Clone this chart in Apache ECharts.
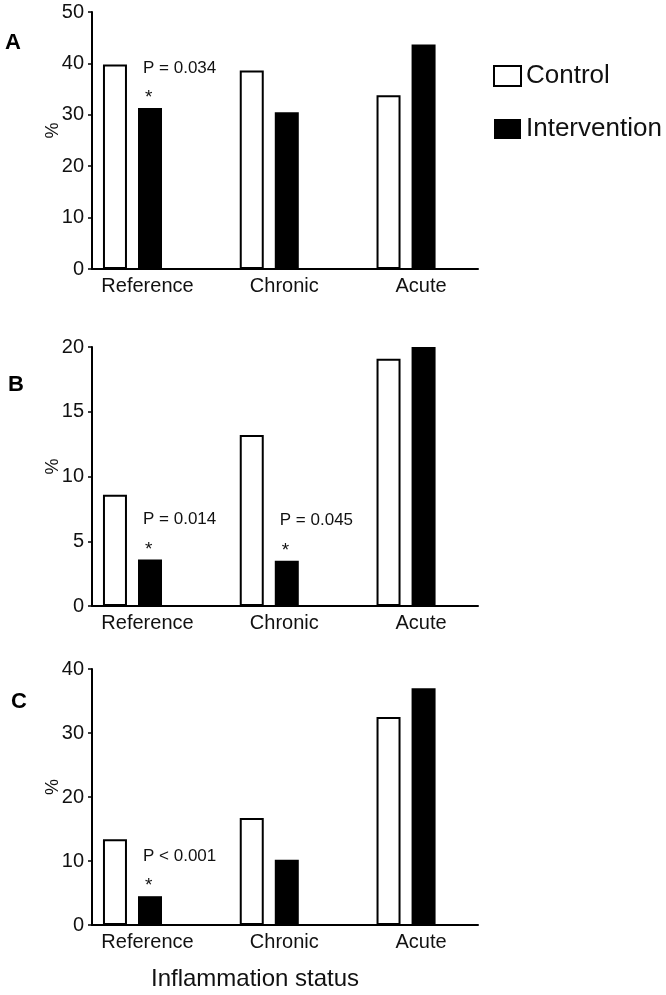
<!DOCTYPE html>
<html>
<head>
<meta charset="utf-8">
<script src="https://cdn.jsdelivr.net/npm/echarts@6/dist/echarts.min.js"></script>
<style>
  html, body { margin: 0; padding: 0; background: #fff; }
  #chart { width: 666px; height: 995px; }
</style>
</head>
<body>
<div id="chart"></div>
<script>
// ---- data ----
const categories = ['Reference', 'Chronic', 'Acute'];
const seriesNames = ['Control', 'Intervention'];

const panelLetters = ['A', 'B', 'C'];

const controlA = [39.8, 38.6, 33.8];
const interventionA = [31.3, 30.5, 43.7];
const pValuesA = ['P = 0.034', '', ''];
const yTicksA = [0, 10, 20, 30, 40, 50];

const controlB = [8.6, 13.2, 19.1];
const interventionB = [3.6, 3.5, 20.0];
const pValuesB = ['P = 0.014', 'P = 0.045', ''];
const yTicksB = [0, 5, 10, 15, 20];

const controlC = [13.4, 16.7, 32.5];
const interventionC = [4.5, 10.2, 37.0];
const pValuesC = ['P < 0.001', '', ''];
const yTicksC = [0, 10, 20, 30, 40];

const yAxisName = '%';
const xAxisTitle = 'Inflammation status';

// ---- layout / style ----
const FONT = 'Liberation Sans, Arial, sans-serif';
const TEXT = '#111';
const panels = [
  { control: controlA, intervention: interventionA, p: pValuesA, ticks: yTicksA, top: 12, height: 257, letterLeft: 5, letterTop: 32 },
  { control: controlB, intervention: interventionB, p: pValuesB, ticks: yTicksB, top: 347, height: 259, letterLeft: 8, letterTop: 374 },
  { control: controlC, intervention: interventionC, p: pValuesC, ticks: yTicksC, top: 669, height: 256, letterLeft: 11, letterTop: 691 }
];

const grid = [], xAxis = [], yAxis = [], series = [], title = [];

panels.forEach((pn, i) => {
  grid.push({ left: 92, right: 188, top: pn.top, height: pn.height });
  xAxis.push({
    type: 'value', gridIndex: i, min: -0.296, max: 2.526,
    axisLine: { show: true, onZero: false, lineStyle: { color: '#000', width: 2 } },
    axisTick: { show: false },
    splitLine: { show: false },
    axisLabel: {
      customValues: categories.map((c, k) => k),
      formatter: v => categories[Math.round(v)],
      fontSize: 20, fontFamily: FONT, color: TEXT, margin: 7,
      padding: [0, 0, 0, 30]
    }
  });
  const tmax = pn.ticks[pn.ticks.length - 1];
  yAxis.push({
    type: 'value', gridIndex: i, min: pn.ticks[0], max: tmax,
    interval: pn.ticks[1] - pn.ticks[0],
    name: yAxisName, nameLocation: 'middle', nameGap: 30, nameMoveOverlap: false,
    nameTextStyle: { fontSize: 18, fontFamily: FONT, color: TEXT, padding: [0, 0, 0, 20] },
    axisLine: { show: true, onZero: false, lineStyle: { color: '#000', width: 2 } },
    axisTick: { show: true, length: 4, lineStyle: { color: '#000', width: 1.5 } },
    splitLine: { show: false },
    axisLabel: { fontSize: 20, fontFamily: FONT, color: TEXT, margin: 8 }
  });
  series.push({
    name: seriesNames[0], type: 'bar', xAxisIndex: i, yAxisIndex: i,
    barWidth: 24, barGap: '46%',
    itemStyle: { color: '#fff', borderColor: '#000', borderWidth: 2 },
    emphasis: { disabled: true },
    data: pn.control.map((v, k) => [k, v])
  });
  series.push({
    name: seriesNames[1], type: 'bar', xAxisIndex: i, yAxisIndex: i,
    barWidth: 24, barGap: '46%',
    itemStyle: { color: '#000' },
    emphasis: { disabled: true },
    label: {
      show: false, position: 'top', distance: 0, align: 'left', offset: [-7, 0],
      fontFamily: FONT, color: TEXT,
      rich: {
        p: { fontSize: 17, fontFamily: FONT, color: TEXT, lineHeight: 40 },
        s: { fontSize: 19, fontFamily: FONT, color: TEXT, lineHeight: 20, padding: [0, 0, 0, 2] }
      }
    },
    data: pn.intervention.map((v, k) => pn.p[k]
      ? { value: [k, v], label: { show: true, formatter: '{p|' + pn.p[k] + '}\n{s|*}' } }
      : { value: [k, v] })
  });
  title.push({
    text: panelLetters[i], left: pn.letterLeft, top: pn.letterTop, padding: 0,
    textStyle: { fontSize: 22, fontWeight: 'bold', fontFamily: FONT, color: '#000' }
  });
});

title.push({
  text: xAxisTitle, left: 151, top: 967, padding: 0,
  textStyle: { fontSize: 24, fontWeight: 'normal', fontFamily: FONT, color: TEXT }
});

const chart = echarts.init(document.getElementById('chart'), null, { renderer: 'canvas' });
chart.setOption({
  animation: false,
  backgroundColor: '#fff',
  title,
  legend: {
    data: seriesNames, orient: 'vertical', left: 488, top: 58,
    itemWidth: 27, itemHeight: 20, itemGap: 27, icon: 'rect',
    selectedMode: false,
    textStyle: { fontSize: 26, fontFamily: FONT, color: TEXT }
  },
  grid, xAxis, yAxis, series
});
</script>
</body>
</html>
